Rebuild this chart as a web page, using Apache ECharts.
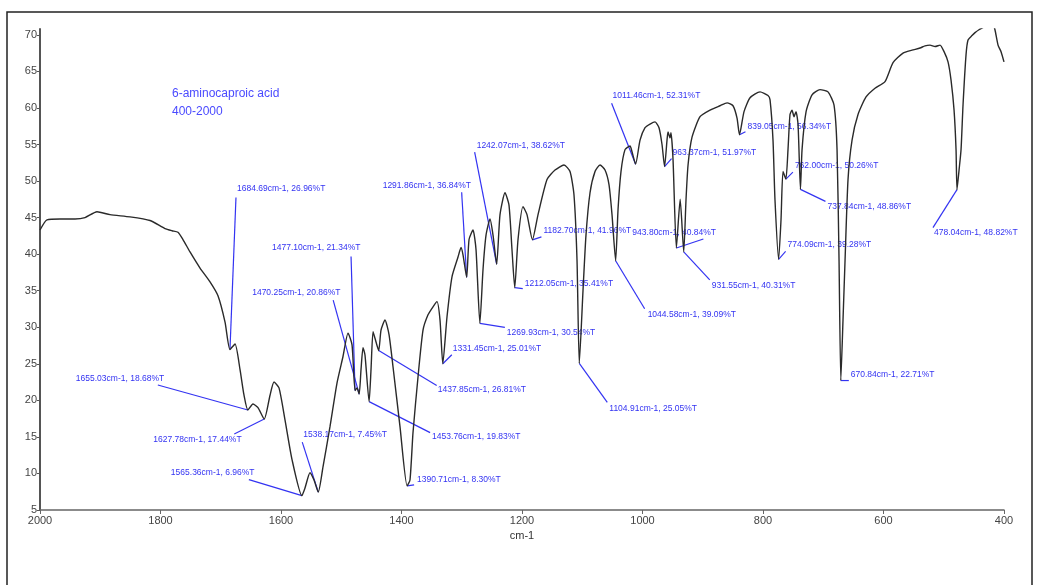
<!DOCTYPE html>
<html>
<head>
<meta charset="utf-8">
<title>6-aminocaproic acid IR</title>
<script src="https://cdn.jsdelivr.net/npm/echarts@6/dist/echarts.min.js"></script>
<style>
  html, body { margin: 0; padding: 0; background: #fff; }
  #chart { width: 1039px; height: 585px; }
</style>
</head>
<body>
<div id="chart"></div>
<script>
// spectrum: wavenumber (cm-1) and transmittance (%T)
var wavenumber = [
    2000, 1988.4, 1966.8, 1941.9, 1925.3, 1905.4, 1883.8, 1850.6, 1817.4, 1792.5,
    1780.9, 1771.0, 1762.7, 1751.0, 1734.4, 1717.8, 1704.6, 1692.9, 1684.69, 1676.3,
    1668.0, 1661.4, 1655.03, 1646.5, 1638.2, 1627.78, 1618.2, 1611.6, 1603.3, 1593.3,
    1581.7, 1565.36, 1560.2, 1551.9, 1545.2, 1538.17, 1530.3, 1518.7, 1507.0, 1497.1,
    1488.8, 1482.1, 1477.10, 1473.8, 1470.25, 1467.2, 1463.9, 1460.6, 1453.76, 1450.6,
    1447.3, 1444.0, 1437.85, 1434.0, 1427.4, 1420.7, 1414.1, 1402.5, 1390.71, 1385.9,
    1380.9, 1372.6, 1364.3, 1356.0, 1347.7, 1341.1, 1336.1, 1331.45, 1324.5, 1316.2,
    1306.2, 1301.2, 1297.9, 1291.86, 1287.9, 1281.3, 1276.3, 1269.93, 1264.7, 1259.7,
    1253.1, 1248.1, 1242.07, 1236.5, 1228.2, 1221.6, 1216.6, 1212.05, 1206.6, 1198.3,
    1191.7, 1182.70, 1173.4, 1158.5, 1145.2, 1130.3, 1120.3, 1113.7, 1108.7, 1104.91,
    1098.7, 1093.8, 1087.1, 1078.8, 1070.5, 1062.2, 1055.6, 1050.6, 1044.58, 1040.6,
    1035.7, 1029.0, 1020.7, 1017.4, 1011.46, 1004.1, 995.8, 987.5, 979.2, 972.6,
    967.6, 963.37, 959.3, 957.6, 954.3, 952.7, 949.3, 943.80, 937.5, 931.55,
    927.8, 924.4, 917.8, 904.5, 887.9, 871.3, 859.7, 849.8, 843.1, 839.05,
    831.5, 821.5, 804.9, 791.7, 788.3, 783.4, 780.1, 774.09, 770.1, 766.8,
    762.00, 758.5, 755.2, 751.8, 748.5, 745.2, 741.8, 737.84, 735.2, 728.5,
    718.6, 705.4, 692.1, 682.1, 677.1, 673.8, 670.84, 667.2, 663.8, 658.9,
    652.2, 642.3, 629.0, 614.1, 597.5, 584.2, 567.6, 552.7, 539.4, 531.1,
    522.8, 514.4, 506.2, 499.5, 492.9, 487.9, 482.9, 479.6, 478.04, 474.6,
    471.3, 468.0, 463.0, 459.7, 453.1, 448.1, 441.5, 434.8, 426.5, 418.2,
    415.0, 409.9, 404.9, 400.0
];
var transmittance = [
    43.3, 44.7, 44.8, 44.8, 45.0, 45.8, 45.4, 45.1, 44.6, 43.5,
    43.2, 43.0, 42.0, 40.3, 38.1, 36.2, 34.3, 30.7, 26.96, 27.7,
    24.2, 20.7, 18.68, 19.5, 19.0, 17.44, 20.7, 22.5, 21.7, 17.3,
    11.9, 6.96, 8.0, 10.1, 9.1, 7.45, 10.9, 16.4, 22.4, 26.0,
    29.2, 27.6, 21.34, 21.7, 20.86, 24.2, 27.2, 26.2, 19.83, 24.2,
    29.4, 28.5, 26.81, 29.6, 31.0, 29.0, 24.6, 16.4, 8.30, 9.1,
    15.6, 23.2, 29.6, 31.7, 32.8, 33.5, 31.0, 25.01, 31.4, 36.9,
    39.6, 40.9, 39.9, 36.84, 42.0, 43.3, 40.6, 30.54, 37.9, 42.6,
    44.8, 42.6, 38.62, 45.4, 48.4, 46.7, 40.6, 35.41, 42.0, 46.5,
    45.4, 41.96, 45.4, 50.2, 51.5, 52.2, 51.3, 48.1, 39.2, 25.05,
    35.1, 42.6, 48.4, 51.3, 52.2, 51.5, 49.5, 45.4, 39.09, 46.1,
    51.3, 54.3, 54.8, 54.0, 52.31, 55.6, 57.3, 57.8, 58.1, 57.3,
    55.0, 51.97, 55.6, 56.7, 55.9, 56.6, 52.9, 40.84, 47.5, 40.31,
    47.4, 52.2, 56.0, 58.8, 59.7, 60.3, 60.7, 60.3, 58.6, 56.34,
    59.5, 61.4, 62.2, 61.7, 61.1, 55.6, 47.4, 39.28, 44.7, 51.3,
    50.26, 54.3, 59.1, 59.7, 58.8, 59.5, 57.7, 48.86, 54.3, 59.5,
    61.8, 62.5, 62.2, 60.4, 54.3, 39.2, 22.71, 31.0, 39.2, 50.2,
    55.6, 59.1, 61.5, 62.7, 63.6, 66.2, 67.5, 67.9, 68.2, 68.5,
    68.6, 68.4, 68.6, 67.7, 66.3, 63.8, 59.7, 54.3, 48.82, 51.5,
    54.3, 60.4, 67.3, 69.3, 69.9, 70.3, 70.7, 71.0, 71.8, 71.4,
    70.7, 68.6, 67.7, 66.3
];

// labelled peaks
var peakWn = [1684.69, 1477.10, 1470.25, 1655.03, 1627.78, 1565.36, 1538.17, 1453.76, 1437.85, 1390.71,
              1331.45, 1291.86, 1242.07, 1269.93, 1212.05, 1182.70, 1104.91, 1044.58, 1011.46, 963.37,
              943.80, 931.55, 839.05, 762.00, 737.84, 774.09, 670.84, 478.04];
var peakT = [26.96, 21.34, 20.86, 18.68, 17.44, 6.96, 7.45, 19.83, 26.81, 8.30,
             25.01, 36.84, 38.62, 30.54, 35.41, 41.96, 25.05, 39.09, 52.31, 51.97,
             40.84, 40.31, 56.34, 50.26, 48.86, 39.28, 22.71, 48.82];

var xTicks = [2000, 1800, 1600, 1400, 1200, 1000, 800, 600, 400];
var yTicks = [5, 10, 15, 20, 25, 30, 35, 40, 45, 50, 55, 60, 65, 70];

// label placement, px relative to the peak: [textX, textY, leaderX, leaderY]
var labelOffsets = [
    [7, -161, 6, -152], [-83, -143, -4, -134], [-107, -101, -26, -94], [-172, -31, -90, -25],
    [-111, 21, -30, 15], [-131, -23, -53, -16], [-15, -57, -16, -50], [63, 35, 61, 31],
    [59, 39, 58, 35], [10, -6, 7, -1], [10, -15, 9, -9], [-84, -92, -5, -85],
    [-20, -119, -22, -112], [27, 9, 25, 4], [10, -4, 8, 1], [11, -9, 9, -3],
    [30, 45, 28, 39], [32, 54, 29, 48], [-23, -69, -24, -61], [8, -14, 7, -8],
    [-44, -15, 27, -9], [28, 34, 26, 28], [8, -8, 6, -3], [9, -13, 7, -7],
    [27, 17, 25, 12], [9, -15, 7, -8], [10, -6, 8, 0], [-23, 43, -24, 38]
];

var spectrum = wavenumber.map(function (w, i) { return [w, transmittance[i]]; });
var peaks = peakWn.map(function (w, i) { return [w, peakT[i]]; });
var blue = '#3333f2';

var myChart = echarts.init(document.getElementById('chart'));
var option = {
    backgroundColor: '#fff',
    animation: false,
    title: {
        text: '6-aminocaproic acid\n400-2000',
        left: 167,
        top: 80,
        textStyle: {
            color: '#4a4aff',
            fontSize: 12,
            fontWeight: 'normal',
            fontFamily: 'Arial',
            lineHeight: 18
        }
    },
    graphic: [{
        type: 'rect',
        shape: {x: 7, y: 12, width: 1025, height: 600},
        style: {fill: 'none', stroke: '#222', lineWidth: 1.5},
        silent: true
    }],
    grid: {left: 40, right: 35, top: 29, bottom: 75},
    xAxis: {
        type: 'value',
        inverse: true,
        min: 400,
        max: 2000,
        interval: 200,
        name: 'cm-1',
        nameLocation: 'middle',
        nameGap: 18,
        nameTextStyle: {color: '#333', fontSize: 11, fontFamily: 'Arial'},
        splitLine: {show: false},
        axisLine: {lineStyle: {color: '#666', width: 1.5}},
        axisTick: {length: 4, lineStyle: {color: '#666'}, customValues: xTicks},
        axisLabel: {
            color: '#444', fontSize: 11, fontFamily: 'Arial', margin: 5, customValues: xTicks,
            formatter: function (v) { return String(v); }
        }
    },
    yAxis: {
        type: 'value',
        min: 5,
        max: 70.8,
        splitLine: {show: false},
        axisLine: {show: true, lineStyle: {color: '#555', width: 2}},
        axisTick: {show: true, length: 3, lineStyle: {color: '#555'}, customValues: yTicks},
        axisLabel: {color: '#444', fontSize: 11, fontFamily: 'Arial', margin: 3, customValues: yTicks}
    },
    series: [
        {
            name: 'spectrum',
            type: 'line',
            data: spectrum,
            showSymbol: false,
            smooth: 0.2,
            clip: true,
            lineStyle: {color: '#2a2a2a', width: 1.4}
        },
        {
            name: 'peaks',
            type: 'custom',
            data: peaks,
            clip: false,
            encode: {x: 0, y: 1},
            renderItem: function (params, api) {
                var i = params.dataIndex;
                var p = api.coord([api.value(0), api.value(1)]);
                var off = labelOffsets[i];
                var txt = peakWn[i].toFixed(2) + 'cm-1, ' + peakT[i].toFixed(2) + '%T';
                return {
                    type: 'group',
                    children: [
                        {
                            type: 'line',
                            shape: {x1: p[0] + off[2], y1: p[1] + off[3], x2: p[0], y2: p[1]},
                            style: {stroke: blue, lineWidth: 1.2}
                        },
                        {
                            type: 'text',
                            x: p[0] + off[0],
                            y: p[1] + off[1],
                            style: {
                                text: txt,
                                fill: blue,
                                font: '8.5px Arial',
                                verticalAlign: 'middle'
                            }
                        }
                    ]
                };
            }
        }
    ]
};

myChart.setOption(option);
</script>
</body>
</html>
